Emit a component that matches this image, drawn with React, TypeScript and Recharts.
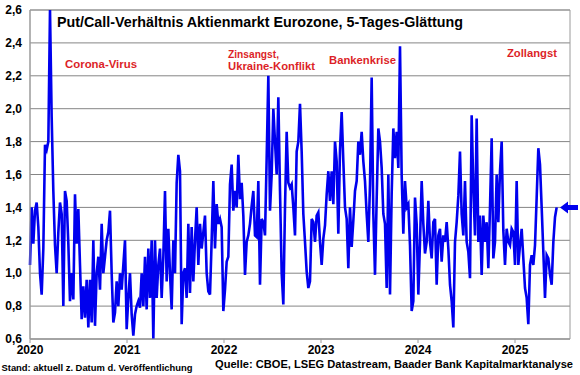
import React from 'react';
import { LineChart, Line, XAxis, YAxis, CartesianGrid, ReferenceArea, ReferenceDot } from 'recharts';

const ratioPart1 = [
  1.05, 1.4, 1.18, 1.38, 1.43, 1.28, 1.0, 0.87, 1.15, 1.78, 1.75, 1.8, 2.6, 1.95, 1.5, 1.17, 1.0, 1.25,
  1.43, 1.36, 0.8, 1.5, 1.44, 1.18, 0.83, 1.0, 0.84, 1.48, 1.18, 1.39, 1.05, 0.72, 0.92, 0.73, 0.96, 0.67,
  0.96, 0.7, 1.2, 0.68, 1.0, 1.1, 0.9, 1.3, 1.0, 1.1, 1.2, 1.25, 1.38, 1.0, 0.7, 0.76, 0.95,
];
const ratioPart2 = [
  0.8, 1.0, 0.9, 1.05, 1.2, 0.66, 0.85, 1.0, 0.75, 0.62, 0.75, 0.8, 0.83, 0.79, 1.0, 0.8, 1.1, 0.78,
  1.15, 0.85, 1.2, 0.6, 1.2, 0.85, 1.05, 1.15, 0.85, 1.1, 1.5, 0.95, 1.27, 1.0, 0.78, 1.2, 1.0, 1.55,
  1.72, 1.62, 0.69, 1.0, 1.03, 0.85, 1.3, 0.88, 1.28, 0.95, 1.2, 1.4, 1.05, 1.3, 1.15, 1.25, 1.35, 1.0,
];
const ratioPart3 = [
  0.89, 0.87, 1.2, 1.56, 1.15, 1.42, 1.3, 1.33, 1.28, 0.77, 0.9, 1.07, 1.1, 1.54, 1.66, 1.38, 1.5, 1.4,
  1.72, 1.45, 1.55, 1.35, 0.99, 1.19, 1.23, 1.3, 1.41, 1.5, 1.23, 1.22, 1.56, 0.93, 1.33, 1.31, 1.23, 1.7,
  2.2, 1.38, 1.6, 2.0, 1.8, 1.6, 2.07, 1.5, 1.0, 0.81, 1.4, 1.86, 1.55, 1.52, 1.54, 1.4, 1.23, 1.74,
];
const ratioPart4 = [
  1.8, 2.03, 1.74, 1.36, 1.19, 1.01, 0.91, 0.95, 1.33, 1.31, 1.19, 1.35, 1.37, 1.19, 1.05, 1.21, 1.29, 1.48,
  1.62, 1.44, 1.62, 1.42, 1.8, 1.68, 1.24, 1.75, 1.98, 1.68, 1.4, 1.33, 1.03, 1.4, 1.16, 1.32, 1.5, 1.56,
  1.8, 1.72, 1.86, 1.68, 1.56, 1.36, 1.19, 1.54, 2.19, 1.36, 0.99, 1.45, 1.88, 1.8, 1.64, 1.36, 1.3, 0.91,
];
const ratioPart5 = [
  1.6, 0.87, 1.48, 1.88, 1.7, 1.86, 1.64, 2.38, 1.6, 1.24, 1.56, 1.4, 1.42, 1.17, 0.77, 0.83, 1.46, 1.3,
  0.87, 1.19, 1.56, 1.3, 1.12, 1.19, 1.44, 1.19, 1.09, 1.31, 1.33, 0.93, 1.23, 1.27, 1.07, 1.23, 1.19, 1.31,
  1.15, 0.93, 0.83, 0.67, 1.19, 1.31, 1.47, 1.74, 1.36, 1.23, 1.56, 1.19, 1.13, 0.97, 1.96, 1.52, 1.23, 1.94,
];
const ratioPart6 = [
  1.19, 1.35, 0.99, 1.35, 1.19, 1.31, 1.03, 1.4, 1.82, 1.09, 1.19, 1.6, 1.31, 1.62, 1.8, 1.26, 1.05, 1.27,
  1.19, 1.17, 1.27, 1.25, 1.05, 1.56, 1.05, 1.17, 1.27, 1.09, 0.91, 0.85, 0.69, 1.05, 1.11, 1.05, 1.17, 1.46,
  1.76, 1.66, 1.4, 1.13, 0.85, 1.11, 1.09, 0.99, 0.93, 1.19, 1.34, 1.4,
];

const yearTicks = [2020, 2021, 2022, 2023, 2024, 2025];
const ratioTicks = [0.6, 0.8, 1.0, 1.2, 1.4, 1.6, 1.8, 2.0, 2.2, 2.4, 2.6];
const startYear = 2020;
const endYear = 2025.567;
const lastValue = 1.4;

const STEP = 1 / 58.2;
const series = [...ratioPart1, ...ratioPart2, ...ratioPart3, ...ratioPart4, ...ratioPart5, ...ratioPart6];
const chartData = series.map((v, i) => ({ t: startYear + i * STEP, ratio: v }));

const FONT = 'Arial, "Liberation Sans", sans-serif';
const BLUE = '#0000ee';
const RED = '#dc1f28';

const Arrow = (props: any) => {
  const { cx, cy } = props;
  if (cx == null || cy == null) return null;
  const pts = [
    [cx - 10, cy], [cx - 2, cy - 6], [cx - 2, cy - 2.5], [cx + 8, cy - 2.5],
    [cx + 8, cy + 2.5], [cx - 2, cy + 2.5], [cx - 2, cy + 6],
  ].map(p => p.join(',')).join(' ');
  return <polygon points={pts} fill={BLUE} />;
};

const App = () => {
  return (
    <div style={{ position: 'absolute', left: 0, top: 0, width: 580, height: 375, background: '#fff', fontFamily: FONT }}>
      <LineChart width={580} height={375} data={chartData} margin={{ top: 10, right: 10, left: 0, bottom: 16 }}>
        <CartesianGrid vertical={false} stroke="#858585" strokeWidth={1} />
        <ReferenceArea x1={startYear} x2={endYear} y1={0.6} y2={2.6} fill="none" stroke="#9a9a9a" strokeWidth={1} />
        <XAxis
          dataKey="t"
          type="number"
          domain={[startYear, endYear]}
          ticks={yearTicks}
          height={20}
          stroke="#9a9a9a"
          tickSize={4}
          tick={{ fill: '#000', fontSize: 12, fontWeight: 'bold', fontFamily: FONT }}
          tickFormatter={(v) => String(Math.round(v))}
        />
        <YAxis
          type="number"
          domain={[0.6, 2.6]}
          ticks={ratioTicks}
          width={30}
          stroke="#9a9a9a"
          tickLine={false}
          tick={{ fill: '#000', fontSize: 12, fontWeight: 'bold', fontFamily: FONT }}
          tickFormatter={(v) => v.toFixed(1).replace('.', ',')}
        />
        <Line
          type="linear"
          dataKey="ratio"
          stroke={BLUE}
          strokeWidth={2.6}
          dot={false}
          isAnimationActive={false}
        />
        <ReferenceDot x={endYear} y={lastValue} ifOverflow="visible" shape={Arrow} />
      </LineChart>
      <svg width={580} height={375} style={{ position: 'absolute', left: 0, top: 0, pointerEvents: 'none' }}>
        <g fontFamily={FONT} fontWeight="bold">
          <text x={57} y={26.5} fontSize={15} fill="#000" textLength={406} lengthAdjust="spacingAndGlyphs">
            Put/Call-Verhältnis Aktienmarkt Eurozone, 5-Tages-Glättung
          </text>
          <text x={65} y={68} fontSize={11} fill={RED} textLength={72} lengthAdjust="spacingAndGlyphs">Corona-Virus</text>
          <text x={228} y={57.5} fontSize={11} fill={RED} textLength={51} lengthAdjust="spacingAndGlyphs">Zinsangst,</text>
          <text x={228} y={70} fontSize={11} fill={RED} textLength={87} lengthAdjust="spacingAndGlyphs">Ukraine-Konflikt</text>
          <text x={329} y={63.5} fontSize={11} fill={RED} textLength={67} lengthAdjust="spacingAndGlyphs">Bankenkrise</text>
          <text x={507} y={57} fontSize={11} fill={RED} textLength={50} lengthAdjust="spacingAndGlyphs">Zollangst</text>
          <text x={1.5} y={370.5} fontSize={9.5} fill="#000" textLength={191} lengthAdjust="spacingAndGlyphs">
            Stand: aktuell z. Datum d. Veröffentlichung
          </text>
          <text x={215} y={367.5} fontSize={11} fill="#000" textLength={358} lengthAdjust="spacingAndGlyphs">
            Quelle: CBOE, LSEG Datastream, Baader Bank Kapitalmarktanalyse
          </text>
        </g>
      </svg>
    </div>
  );
};

export default App;
